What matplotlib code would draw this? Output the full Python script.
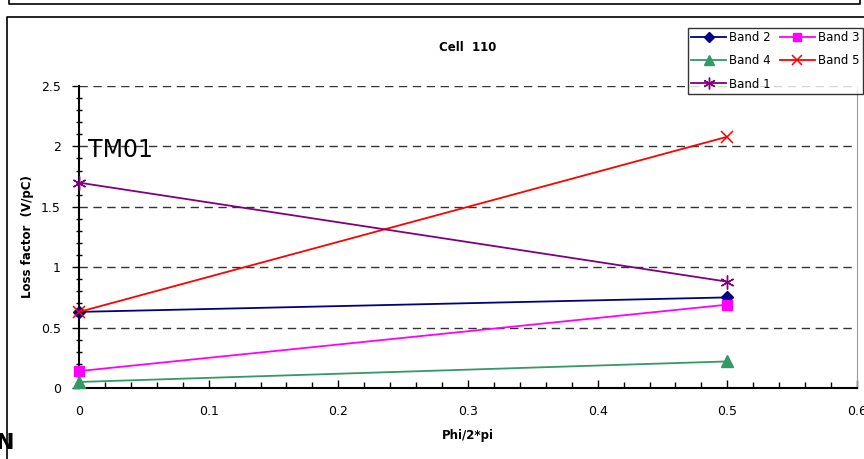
import matplotlib.pyplot as plt
from matplotlib.lines import Line2D
from matplotlib.ticker import MultipleLocator

W, H = 864, 459

phi = [0.0, 0.5]
band2 = [0.63, 0.75]
band3 = [0.14, 0.69]
band4 = [0.05, 0.22]
band5 = [0.63, 2.08]
band1 = [1.70, 0.88]

fig = plt.figure(figsize=(W / 100, H / 100), dpi=100)

def fx(px):
    return px / W

def fy(py):
    return 1 - py / H

# outer frames (pieces of the spreadsheet chart objects)
fig.add_artist(Line2D([fx(9), fx(9), fx(860), fx(860)], [fy(-5), fy(4), fy(4), fy(-5)],
                      color='black', lw=1.2, transform=fig.transFigure))
fig.add_artist(Line2D([fx(7), fx(7), fx(870)], [fy(470), fy(17), fy(17)],
                      color='black', lw=1.2, transform=fig.transFigure))
fig.text(fx(-4), fy(443), 'N', fontsize=16, fontweight='bold', va='center', ha='left')

ax = fig.add_axes([fx(79), fy(388), fx(857) - fx(79), fy(86) - fy(388)])

kw = dict(lw=1.3, clip_on=False, zorder=3)
ax.plot(phi, band2, color='#000080', marker='D', ms=6, label='Band 2', **kw)
ax.plot(phi, band3, color='#FF00FF', marker='s', ms=7, label='Band 3', **kw)
ax.plot(phi, band4, color='#339966', marker='^', ms=8, label='Band 4', **kw)
ax.plot(phi, band5, color='#FF0000', marker='x', ms=9, mew=1.1, label='Band 5', **kw)
ax.plot(phi, band1, color='#800080', marker=(6, 2, 0), ms=10, mew=1.0, label='Band 1', **kw)

ax.set_xlim(0, 0.6)
ax.set_ylim(0, 2.5)
ax.xaxis.set_minor_locator(MultipleLocator(0.02))
ax.yaxis.set_minor_locator(MultipleLocator(0.1))
ax.set_xticks([0, 0.1, 0.2, 0.3, 0.4, 0.5, 0.6])
ax.set_xticklabels(['0', '0.1', '0.2', '0.3', '0.4', '0.5', '0.6'])
ax.set_yticks([0, 0.5, 1, 1.5, 2, 2.5])
ax.set_yticklabels(['0', '0.5', '1', '1.5', '2', '2.5'])
ax.tick_params(axis='x', which='major', direction='in', length=6, width=1, labelsize=9, pad=12)
ax.tick_params(axis='x', which='minor', direction='in', length=4, width=1)
ax.tick_params(axis='y', which='major', direction='out', length=5, width=1, labelsize=9, pad=8)
ax.tick_params(axis='y', which='minor', direction='inout', length=5, width=1)

for y in [0.5, 1, 1.5, 2, 2.5]:
    ax.axhline(y, color='#333333', lw=1.0, dashes=(6, 4), zorder=0)

ax.spines['top'].set_visible(False)
ax.spines['right'].set_color('#999999')
ax.spines['left'].set_linewidth(1.5)
ax.spines['bottom'].set_linewidth(1.5)

ax.set_title('Cell  110', fontsize=8.5, fontweight='bold', pad=25)
ax.set_xlabel('Phi/2*pi', fontsize=8.5, fontweight='bold', labelpad=8)
ax.set_ylabel('Loss factor  (V/pC)', fontsize=8.5, fontweight='bold', labelpad=5)
ax.text(0.007, 1.87, 'TM01', fontsize=17, ha='left', va='bottom')

h, l = ax.get_legend_handles_labels()
order = [0, 2, 4, 1, 3]
leg = ax.legend([h[i] for i in order], [l[i] for i in order], ncol=2,
                loc='upper left', bbox_to_anchor=(fx(682), fy(22)),
                bbox_transform=fig.transFigure, fontsize=8.5, frameon=True,
                fancybox=False, edgecolor='black', borderpad=0.3, labelspacing=0.85,
                handlelength=2.9, handletextpad=0.3, columnspacing=0.8, markerscale=0.85)
leg.get_frame().set_linewidth(1.0)
leg.set_zorder(5)

fig.savefig('out.png', dpi=100)
